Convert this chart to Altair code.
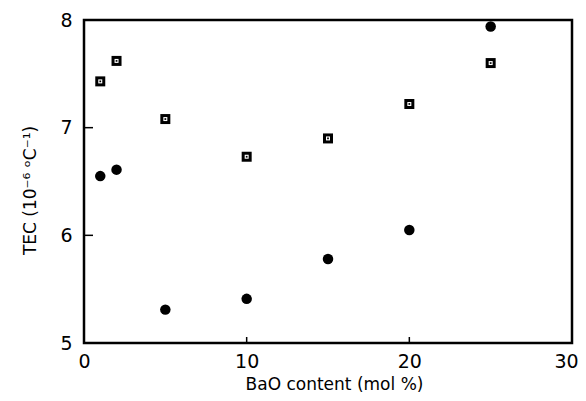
import altair as alt
import pandas as pd

# Data
bao = [1, 2, 5, 10, 15, 20, 25]
tec_squares = [7.43, 7.62, 7.08, 6.73, 6.90, 7.22, 7.60]
tec_diamonds = [6.55, 6.61, 5.31, 5.41, 5.78, 6.05, 7.94]
x_tick_values = [0, 10, 20, 30]
y_tick_values = [5, 6, 7, 8]
x_inner_ticks = [10, 20]
y_inner_ticks = [6, 7]

W, H = 488, 323
FONT = "DejaVu Sans"

sq = pd.DataFrame({"x": bao, "y": tec_squares})
dm = pd.DataFrame({"x": bao, "y": tec_diamonds})
xt = pd.DataFrame({"x": x_inner_ticks})
yt = pd.DataFrame({"y": y_inner_ticks})

xs = alt.Scale(domain=[0, 30], nice=False, zero=False)
ys = alt.Scale(domain=[5, 8], nice=False, zero=False)

xaxis = alt.Axis(values=x_tick_values, format="d", title="BaO content (mol %)", ticks=False,
                 domain=False, grid=False, labelFontSize=19, labelFont=FONT, labelColor="black",
                 labelPadding=9, titleFontSize=17, titleFont=FONT, titleFontWeight="normal",
                 titleColor="black", titlePadding=5, labelFlush=False, titleX=250,
                 labelOffset=alt.ExprRef("datum.value == 30 ? -6 : 0"))
yaxis = alt.Axis(values=y_tick_values, format="d", title="TEC (10⁻⁶ ᵒC⁻¹)", ticks=False,
                 domain=False, grid=False, labelFontSize=19, labelFont=FONT, labelColor="black",
                 labelPadding=12, titleFontSize=17, titleFont=FONT, titleFontWeight="normal",
                 titleColor="black", titlePadding=20, labelFlush=False, titleY=170)

base_sq = alt.Chart(sq).encode(x=alt.X("x:Q", scale=xs, axis=xaxis),
                               y=alt.Y("y:Q", scale=ys, axis=yaxis))
sq_outer = base_sq.mark_square(size=100, color="black", opacity=1)
sq_inner = base_sq.mark_square(size=16, color="white", opacity=1)
sq_dot = base_sq.mark_square(size=3, color="black", opacity=1)

dia = alt.Chart(dm).mark_circle(size=110, color="black", opacity=1).encode(
    x=alt.X("x:Q", scale=xs), y=alt.Y("y:Q", scale=ys))

xticks = alt.Chart(xt).mark_rule(color="black", strokeWidth=1.5).encode(
    x=alt.X("x:Q", scale=xs), y=alt.value(H), y2=alt.value(H - 6))
yticks = alt.Chart(yt).mark_rule(color="black", strokeWidth=1.5).encode(
    y=alt.Y("y:Q", scale=ys), x=alt.value(0), x2=alt.value(9))

chart = alt.layer(xticks, yticks, sq_outer, sq_inner, sq_dot, dia).properties(
    width=W, height=H,
    autosize=alt.AutoSizeParams(type="none"),
    padding={"left": 76, "top": 12, "right": 6, "bottom": 50},
).configure(background="white").configure_view(stroke="black", strokeWidth=2.5)

chart.save("out.html", embed_options={"renderer": "svg", "actions": False})
